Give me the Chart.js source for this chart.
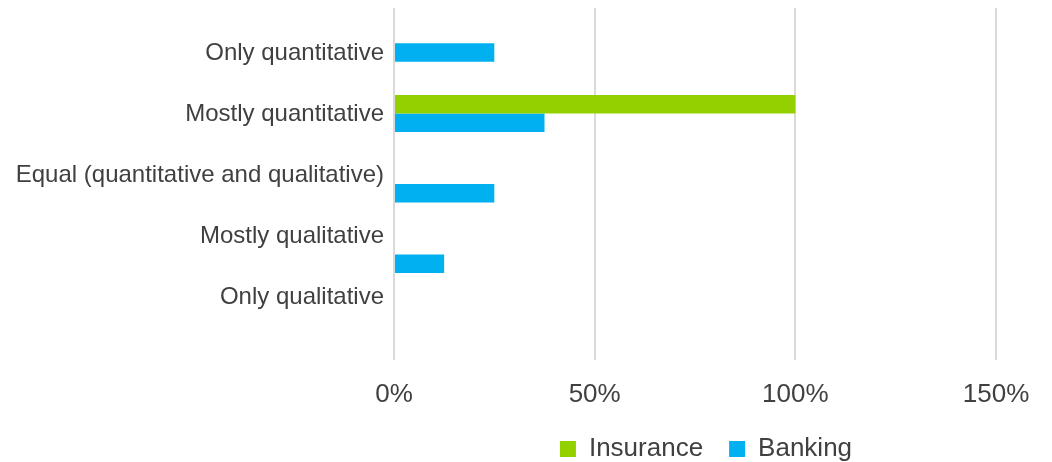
<!DOCTYPE html>
<html>
<head>
<meta charset="utf-8">
<title>Quantitative vs qualitative approach</title>
<script src="https://cdn.jsdelivr.net/npm/chart.js@4/dist/chart.umd.min.js"></script>
<style>
  html, body { margin: 0; padding: 0; background: #ffffff; }
</style>
</head>
<body>
<canvas id="approach-chart" width="1052" height="462"></canvas>
<script>
const categories = [
  "Only quantitative",
  "Mostly quantitative",
  "Equal (quantitative and qualitative)",
  "Mostly qualitative",
  "Only qualitative",
];
const insurance = [0, 100, 0, 0, 0];
const banking = [25, 37.5, 25, 12.5, 0];
const xTicks = [0, 50, 100, 150];

const textColor = "#404040";
Chart.defaults.font.family = '"Liberation Sans", Arial, sans-serif';
Chart.defaults.color = textColor;

// centre the legend under the plot (nudged right a little) instead of the whole canvas
const legendUnderPlot = {
  id: "legendUnderPlot",
  beforeDraw(chart) {
    chart.legend.left = chart.chartArea.left + 11;
    chart.legend.right = chart.chartArea.right + 11;
  },
};

function drawChart() {
  const ctx = document.getElementById("approach-chart").getContext("2d");

  new Chart(ctx, {
    type: "bar",
    data: {
      labels: categories,
      datasets: [
        {
          label: "Insurance",
          data: insurance,
          backgroundColor: "#92d000",
          borderWidth: 0,
        },
        {
          label: "Banking",
          data: banking,
          backgroundColor: "#00b0f0",
          borderWidth: 0,
        },
      ],
    },
    options: {
      indexAxis: "y",
      responsive: false,
      animation: false,
      layout: { padding: { top: 8, right: 56, bottom: -10, left: 0 } },
      datasets: {
        bar: { categoryPercentage: 0.525, barPercentage: 1 },
      },
      plugins: {
        tooltip: { enabled: false },
        legend: {
          display: true,
          position: "bottom",
          labels: {
            boxWidth: 16,
            boxHeight: 16,
            padding: 26,
            color: textColor,
            font: { size: 26 },
          },
        },
      },
      scales: {
        x: {
          min: xTicks[0],
          max: xTicks[xTicks.length - 1],
          afterBuildTicks: (scale) => {
            scale.ticks = xTicks.map((v) => ({ value: v }));
          },
          // keep the axis box just tall enough for the labels
          afterFit: (scale) => {
            scale.height = 50;
          },
          grid: { color: "#d9d9d9", lineWidth: 2, drawTicks: false },
          border: { display: false },
          ticks: {
            padding: 19,
            color: textColor,
            font: { size: 26 },
            callback: (v) => v + "%",
          },
        },
        // bars sit on this one
        y: { type: "category", display: false },
        // category names, spaced a bit tighter than the bars
        yl: {
          type: "linear",
          position: "left",
          reverse: true,
          offset: false,
          min: -0.74,
          max: 5.03,
          grid: { display: false, offset: false, drawTicks: false },
          border: { display: false },
          afterBuildTicks: (scale) => {
            scale.ticks = categories.map((_, i) => ({ value: i }));
          },
          afterFit: (scale) => {
            scale.width = 394;
            scale.paddingTop = 0;
            scale.paddingBottom = 0;
          },
          ticks: {
            padding: 10,
            color: textColor,
            font: { size: 24 },
            callback: (v) => categories[v],
          },
        },
      },
    },
    plugins: [legendUnderPlot],
  });
}

document.addEventListener("DOMContentLoaded", drawChart);
</script>
</body>
</html>
